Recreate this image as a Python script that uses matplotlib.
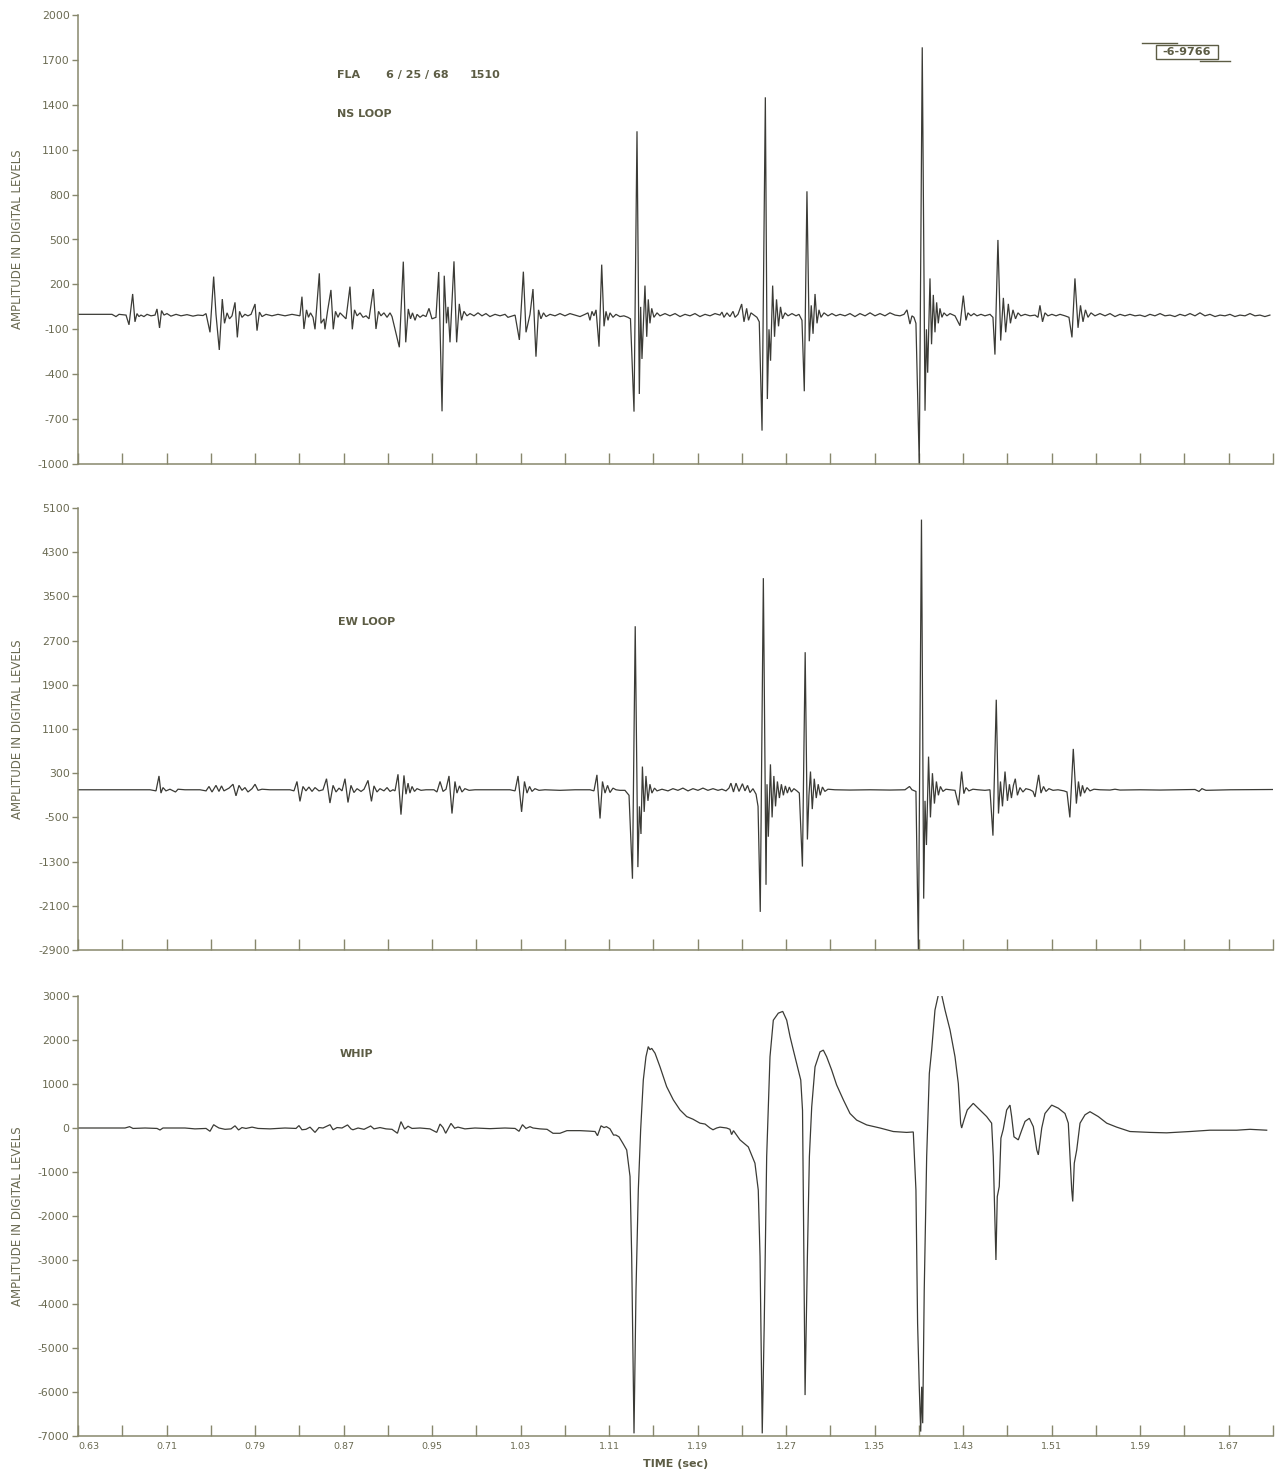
import matplotlib
matplotlib.use("Agg")
import matplotlib.pyplot as plt
from matplotlib.lines import Line2D
from matplotlib.patches import Rectangle

# ---------------- data (time in s, amplitude in digital levels) ----------------
ns_loop = [
    (0.6300, 0), (0.6607, 0), (0.6643, -15), (0.6671, 0), (0.6734, -5), (0.6761, -70), (0.6794, 136),
    (0.6815, -50), (0.6833, 5), (0.6851, -15), (0.6869, -5), (0.6896, -15), (0.6924, 0), (0.6960, -10),
    (0.6996, -5), (0.7014, 36), (0.7037, -91), (0.7055, 25), (0.7077, -5), (0.7104, 5), (0.7140, -12),
    (0.7186, 0), (0.7231, -10), (0.7285, -2), (0.7339, -12), (0.7384, -5), (0.7430, -8), (0.7457, 5),
    (0.7493, -120), (0.7526, 252), (0.7547, 0), (0.7577, -238), (0.7604, 102), (0.7624, -60), (0.7647, 10),
    (0.7669, -30), (0.7692, -10), (0.7719, 80), (0.7740, -154), (0.7760, 20), (0.7782, -20), (0.7809, 0),
    (0.7836, -10), (0.7864, 0), (0.7900, 69), (0.7918, -109), (0.7940, 15), (0.7963, -15), (0.7999, 0),
    (0.8053, -10), (0.8107, 0), (0.8171, -10), (0.8234, 0), (0.8270, -5), (0.8306, -10), (0.8324, 118),
    (0.8342, -98), (0.8365, 30), (0.8383, -20), (0.8401, 10), (0.8424, -20), (0.8442, -100), (0.8481, 274),
    (0.8496, -60), (0.8523, -30), (0.8532, -100), (0.8555, 20), (0.8586, 163), (0.8607, -100), (0.8627, 20),
    (0.8650, -20), (0.8668, 10), (0.8695, -10), (0.8722, -30), (0.8758, 185), (0.8779, -100), (0.8799, 30),
    (0.8822, -10), (0.8849, 10), (0.8876, -20), (0.8903, -10), (0.8930, -30), (0.8969, 169), (0.8993, -98),
    (0.9016, 20), (0.9038, -10), (0.9065, 10), (0.9093, -20), (0.9120, 10), (0.9138, -15), (0.9165, -98),
    (0.9204, -220), (0.9240, 352), (0.9262, -187), (0.9285, 36), (0.9305, -30), (0.9323, 10), (0.9346, -40),
    (0.9364, 0), (0.9391, -20), (0.9418, -5), (0.9445, -15), (0.9472, 40), (0.9499, -30), (0.9535, -20),
    (0.9560, 283), (0.9590, -648), (0.9610, 258), (0.9630, -60), (0.9644, 50), (0.9662, -187), (0.9698, 354),
    (0.9722, -187), (0.9746, 70), (0.9766, -40), (0.9788, 20), (0.9815, -10), (0.9843, 5), (0.9879, -10),
    (0.9915, 10), (0.9951, -10), (0.9987, 5), (1.0023, -15), (1.0069, 0), (1.0114, -10), (1.0159, 0),
    (1.0186, -20), (1.0250, -5), (1.0289, -171), (1.0325, 285), (1.0349, -120), (1.0385, 0), (1.0412, 169),
    (1.0439, -283), (1.0462, 30), (1.0484, -30), (1.0507, 10), (1.0530, -15), (1.0566, 0), (1.0611, -10),
    (1.0656, 5), (1.0701, -10), (1.0746, 5), (1.0792, -5), (1.0837, -15), (1.0882, 0), (1.0909, 10),
    (1.0927, -40), (1.0945, 20), (1.0963, -10), (1.0982, 30), (1.1009, -216), (1.1033, 332), (1.1054, -80),
    (1.1072, 20), (1.1090, -40), (1.1108, 10), (1.1135, -20), (1.1162, 0), (1.1198, -15), (1.1234, -10),
    (1.1270, -20), (1.1293, -30), (1.1325, -650), (1.1352, 1223), (1.1373, -532), (1.1385, 50), (1.1397, -298),
    (1.1424, 192), (1.1440, -150), (1.1454, 100), (1.1469, -60), (1.1485, 40), (1.1505, -20), (1.1533, 10),
    (1.1560, -10), (1.1605, 5), (1.1650, -10), (1.1696, 5), (1.1741, -15), (1.1786, 0), (1.1831, -10),
    (1.1876, 5), (1.1921, -15), (1.1967, 0), (1.2012, -10), (1.2057, 5), (1.2102, -5), (1.2120, 15),
    (1.2138, -20), (1.2165, 10), (1.2192, -15), (1.2220, 20), (1.2238, -20), (1.2265, 0), (1.2298, 69),
    (1.2319, -50), (1.2343, 40), (1.2360, -40), (1.2382, 10), (1.2409, -5), (1.2436, -20), (1.2457, -50),
    (1.2482, -777), (1.2512, 1450), (1.2530, -566), (1.2545, -100), (1.2559, -310), (1.2578, 192),
    (1.2595, -150), (1.2613, 100), (1.2631, -80), (1.2649, 50), (1.2667, -30), (1.2690, 10), (1.2717, -10),
    (1.2753, 5), (1.2789, -10), (1.2816, 0), (1.2843, -40), (1.2864, -514), (1.2888, 822), (1.2909, -180),
    (1.2927, 60), (1.2943, -130), (1.2961, 136), (1.2979, -60), (1.2997, 30), (1.3015, -20), (1.3042, 10),
    (1.3078, -10), (1.3114, 5), (1.3150, -10), (1.3187, 0), (1.3232, -10), (1.3277, 5), (1.3322, -15),
    (1.3367, 5), (1.3413, -10), (1.3458, 10), (1.3503, -10), (1.3548, 5), (1.3593, -10), (1.3638, 10),
    (1.3684, -5), (1.3729, -10), (1.3765, 0), (1.3792, 30), (1.3819, -65), (1.3837, -10), (1.3855, -20),
    (1.3873, -60), (1.3903, -1000), (1.3930, 1784), (1.3955, -644), (1.3968, -100), (1.3979, -390),
    (1.4000, 240), (1.4014, -200), (1.4030, 130), (1.4045, -120), (1.4060, 80), (1.4075, -60), (1.4090, 40),
    (1.4108, -20), (1.4126, 10), (1.4153, -10), (1.4181, 5), (1.4226, -10), (1.4271, -76), (1.4301, 125),
    (1.4325, -40), (1.4343, 10), (1.4370, -10), (1.4397, 5), (1.4425, -10), (1.4461, 0), (1.4497, -10),
    (1.4542, 0), (1.4569, -20), (1.4587, -269), (1.4614, 497), (1.4639, -175), (1.4663, 110), (1.4684, -120),
    (1.4708, 70), (1.4727, -60), (1.4750, 30), (1.4773, -30), (1.4795, 10), (1.4822, -10), (1.4859, 0),
    (1.4904, -10), (1.4949, -5), (1.4976, -20), (1.4994, 60), (1.5017, -50), (1.5039, 10), (1.5066, -10),
    (1.5102, 0), (1.5139, -10), (1.5175, 0), (1.5220, -10), (1.5256, -20), (1.5283, -154), (1.5310, 240),
    (1.5338, -90), (1.5360, 60), (1.5383, -50), (1.5405, 30), (1.5428, -20), (1.5455, 10), (1.5491, -10),
    (1.5536, 5), (1.5582, -10), (1.5627, 5), (1.5672, -15), (1.5717, 0), (1.5762, -10), (1.5807, 0),
    (1.5853, -10), (1.5898, -5), (1.5943, -15), (1.5988, 0), (1.6033, -10), (1.6079, 5), (1.6124, -10),
    (1.6169, -5), (1.6214, -15), (1.6259, 0), (1.6305, -10), (1.6350, 5), (1.6395, -10), (1.6440, 10),
    (1.6485, -10), (1.6530, 0), (1.6576, -15), (1.6621, -5), (1.6666, -10), (1.6711, 0), (1.6756, -15),
    (1.6801, -5), (1.6847, -10), (1.6892, 5), (1.6937, -10), (1.6982, -5), (1.7027, -15), (1.7072, -5),
]

ew_loop = [
    (0.6300, 0), (0.6951, 0), (0.7005, -20), (0.7032, 250), (0.7050, -60), (0.7068, 40), (0.7095, -20),
    (0.7131, 10), (0.7181, -40), (0.7204, 10), (0.7267, 0), (0.7403, 0), (0.7457, -20), (0.7484, 60),
    (0.7511, -40), (0.7547, 80), (0.7574, -30), (0.7597, 70), (0.7619, -20), (0.7665, 30), (0.7701, 100),
    (0.7728, -110), (0.7755, 80), (0.7782, -10), (0.7809, 40), (0.7836, -40), (0.7873, 20), (0.7900, 100),
    (0.7927, -10), (0.7963, 10), (0.8035, 0), (0.8216, 0), (0.8252, -20), (0.8279, 150), (0.8306, -210),
    (0.8333, 60), (0.8360, -20), (0.8387, 50), (0.8415, -30), (0.8442, 40), (0.8478, -20), (0.8514, 0),
    (0.8546, 200), (0.8577, -240), (0.8605, 80), (0.8632, -40), (0.8659, 30), (0.8686, -20), (0.8713, 200),
    (0.8740, -230), (0.8767, 80), (0.8794, -50), (0.8822, 20), (0.8858, -30), (0.8885, 10), (0.8921, 170),
    (0.8952, -210), (0.8975, 70), (0.9002, -40), (0.9029, 20), (0.9065, -20), (0.9093, 40), (0.9120, -30),
    (0.9147, 0), (0.9165, -20), (0.9192, 280), (0.9219, -450), (0.9246, 260), (0.9264, -80), (0.9283, 120),
    (0.9300, -60), (0.9319, 60), (0.9341, -30), (0.9364, 20), (0.9400, -10), (0.9445, 0), (0.9517, 0),
    (0.9544, -40), (0.9572, 150), (0.9599, -30), (0.9626, 10), (0.9653, 250), (0.9680, -430), (0.9707, 150),
    (0.9725, -60), (0.9748, 70), (0.9770, -40), (0.9797, 20), (0.9834, -10), (0.9888, 0), (1.0204, 0),
    (1.0250, -20), (1.0277, 250), (1.0309, -400), (1.0335, 150), (1.0358, -60), (1.0381, 60), (1.0403, -30),
    (1.0430, 20), (1.0466, -10), (1.0520, 0), (1.0656, -10), (1.0792, 0), (1.0927, 0), (1.0963, -20),
    (1.0990, 270), (1.1018, -520), (1.1040, 150), (1.1063, -60), (1.1086, 80), (1.1108, -50), (1.1135, 30),
    (1.1162, 0), (1.1198, -10), (1.1243, -10), (1.1280, -100), (1.1311, -1610), (1.1336, 2960),
    (1.1360, -1400), (1.1374, -300), (1.1388, -800), (1.1401, 420), (1.1417, -400), (1.1433, 250),
    (1.1451, -200), (1.1469, 100), (1.1487, -60), (1.1510, 30), (1.1533, -20), (1.1578, 10), (1.1632, -20),
    (1.1677, 20), (1.1722, -10), (1.1767, 30), (1.1813, -20), (1.1858, 20), (1.1903, -10), (1.1948, 30),
    (1.1993, -10), (1.2039, 20), (1.2084, -10), (1.2120, 10), (1.2156, -20), (1.2183, 30), (1.2201, 120),
    (1.2224, -40), (1.2247, 120), (1.2274, -30), (1.2305, 110), (1.2328, -20), (1.2351, 80), (1.2373, -50),
    (1.2400, 20), (1.2428, -80), (1.2446, -300), (1.2466, -2210), (1.2494, 3830), (1.2518, -1720),
    (1.2527, 100), (1.2539, -850), (1.2558, 460), (1.2573, -500), (1.2589, 250), (1.2604, -300),
    (1.2621, 150), (1.2639, -150), (1.2657, 100), (1.2675, -100), (1.2693, 70), (1.2711, -60), (1.2729, 50),
    (1.2747, -40), (1.2770, 20), (1.2797, -20), (1.2819, -60), (1.2847, -1390), (1.2872, 2490),
    (1.2892, -900), (1.2906, -100), (1.2920, 330), (1.2936, -350), (1.2954, 200), (1.2972, -150),
    (1.2990, 100), (1.3008, -100), (1.3028, 50), (1.3050, -30), (1.3078, 10), (1.3141, 0), (1.3277, -5),
    (1.3458, 0), (1.3638, -5), (1.3774, 0), (1.3815, 60), (1.3837, 0), (1.3873, -30), (1.3895, -2900),
    (1.3923, 4890), (1.3943, -1970), (1.3955, -200), (1.3968, -1000), (1.3987, 600), (1.4004, -500),
    (1.4022, 300), (1.4040, -250), (1.4058, 150), (1.4076, -100), (1.4094, 60), (1.4117, -30), (1.4144, 10),
    (1.4181, 0), (1.4226, -10), (1.4258, -280), (1.4286, 330), (1.4306, -70), (1.4325, 40), (1.4352, -20),
    (1.4388, 10), (1.4434, 0), (1.4497, -10), (1.4542, 0), (1.4569, -830), (1.4599, 1630), (1.4619, -430),
    (1.4637, 150), (1.4655, -300), (1.4678, 330), (1.4700, -200), (1.4718, 100), (1.4736, -150),
    (1.4754, 80), (1.4771, 200), (1.4790, -100), (1.4813, 40), (1.4840, -40), (1.4867, 20), (1.4904, 0),
    (1.4931, -30), (1.4949, -130), (1.4982, 270), (1.5003, -60), (1.5026, 60), (1.5048, -30), (1.5075, 20),
    (1.5112, -10), (1.5157, 0), (1.5211, -20), (1.5238, -40), (1.5264, -500), (1.5295, 740), (1.5323, -250),
    (1.5342, 150), (1.5360, -120), (1.5378, 80), (1.5396, -60), (1.5419, 40), (1.5446, -20), (1.5482, 10),
    (1.5536, 0), (1.5627, -5), (1.5672, 10), (1.5717, -5), (1.5898, 0), (1.6079, -5), (1.6395, 5),
    (1.6431, -30), (1.6458, 20), (1.6494, -10), (1.6711, 0), (1.7100, 5),
]

whip = [
    (0.6300, 0), (0.6725, 0), (0.6766, 30), (0.6797, -10), (0.6906, 0), (0.7014, -10), (0.7041, -45),
    (0.7068, 0), (0.7267, 0), (0.7357, -20), (0.7457, -10), (0.7493, -75), (0.7526, 75), (0.7547, 40),
    (0.7574, 0), (0.7629, -30), (0.7683, -20), (0.7719, 50), (0.7751, -45), (0.7782, 10), (0.7818, -10),
    (0.7873, 20), (0.7927, -10), (0.8035, -20), (0.8171, 0), (0.8270, -10), (0.8297, 55), (0.8324, -40),
    (0.8360, -30), (0.8397, 20), (0.8442, -100), (0.8478, 10), (0.8514, 0), (0.8578, 75), (0.8605, -40),
    (0.8641, 10), (0.8686, 0), (0.8736, 70), (0.8767, -20), (0.8785, -40), (0.8831, 0), (0.8885, -30),
    (0.8945, 45), (0.8975, -20), (0.9029, 10), (0.9084, -20), (0.9138, -30), (0.9187, -120), (0.9219, 145),
    (0.9252, -25), (0.9283, 40), (0.9319, -10), (0.9391, 0), (0.9481, -20), (0.9542, -100), (0.9572, 90),
    (0.9599, 10), (0.9623, -120), (0.9671, 105), (0.9704, -5), (0.9734, 20), (0.9797, -20), (0.9888, 0),
    (1.0023, -15), (1.0159, 0), (1.0250, -10), (1.0286, -75), (1.0317, 75), (1.0349, -10), (1.0385, 30),
    (1.0412, 0), (1.0475, -20), (1.0539, -30), (1.0593, -120), (1.0656, -120), (1.0719, -60), (1.0837, -60),
    (1.0915, -70), (1.0973, -80), (1.0995, -175), (1.1027, 50), (1.1054, 10), (1.1076, 30), (1.1108, -20),
    (1.1140, -160), (1.1161, -160), (1.1189, -200), (1.1225, -350), (1.1259, -500), (1.1289, -1100),
    (1.1304, -2920), (1.1325, -6940), (1.1343, -3680), (1.1364, -1400), (1.1385, -45), (1.1409, 1090),
    (1.1433, 1620), (1.1454, 1850), (1.1469, 1780), (1.1485, 1810), (1.1515, 1700), (1.1560, 1390),
    (1.1620, 940), (1.1680, 640), (1.1741, 410), (1.1801, 260), (1.1858, 200), (1.1921, 110), (1.1967, 90),
    (1.2012, 0), (1.2039, -40), (1.2072, 0), (1.2102, 20), (1.2162, 0), (1.2192, -30), (1.2207, -150),
    (1.2224, -60), (1.2283, -270), (1.2358, -430), (1.2418, -800), (1.2448, -1410), (1.2464, -2920),
    (1.2484, -6940), (1.2502, -4440), (1.2524, -650), (1.2554, 1620), (1.2584, 2450), (1.2629, 2610),
    (1.2669, 2650), (1.2705, 2450), (1.2735, 2080), (1.2765, 1770), (1.2810, 1320), (1.2832, 1090),
    (1.2848, 400), (1.2857, -2000), (1.2871, -6070), (1.2892, -2920), (1.2910, -650), (1.2931, 480),
    (1.2961, 1390), (1.3006, 1730), (1.3036, 1770), (1.3066, 1620), (1.3111, 1320), (1.3156, 980),
    (1.3217, 640), (1.3277, 330), (1.3337, 180), (1.3428, 70), (1.3548, 0), (1.3668, -80), (1.3789, -100),
    (1.3849, -90), (1.3873, -1410), (1.3888, -4440), (1.3903, -5880), (1.3916, -6900), (1.3925, -5880),
    (1.3934, -6710), (1.3948, -3680), (1.3970, -650), (1.3994, 1240), (1.4015, 1770), (1.4045, 2680),
    (1.4075, 3020), (1.4106, 3020), (1.4136, 2680), (1.4181, 2230), (1.4226, 1620), (1.4256, 1010),
    (1.4277, 110), (1.4286, 0), (1.4307, 180), (1.4337, 410), (1.4391, 560), (1.4452, 410), (1.4512, 260),
    (1.4557, 110), (1.4572, -650), (1.4587, -2170), (1.4596, -3000), (1.4608, -1560), (1.4626, -1330),
    (1.4641, -230), (1.4662, -30), (1.4693, 410), (1.4723, 520), (1.4738, 260), (1.4759, -200),
    (1.4798, -270), (1.4829, -50), (1.4859, 150), (1.4898, 220), (1.4934, 30), (1.4965, -500),
    (1.4979, -610), (1.5010, 0), (1.5039, 330), (1.5100, 520), (1.5160, 450), (1.5220, 330), (1.5250, 110),
    (1.5265, -650), (1.5281, -1410), (1.5290, -1670), (1.5304, -800), (1.5326, -500), (1.5356, 110),
    (1.5401, 300), (1.5446, 370), (1.5521, 260), (1.5597, 110), (1.5687, 20), (1.5807, -80), (1.5988, -100),
    (1.6139, -110), (1.6350, -80), (1.6530, -50), (1.6771, -50), (1.6892, -30), (1.7043, -50),
]

panel_names = ["NS LOOP", "EW LOOP", "WHIP"]
ns_yticks = [2000, 1700, 1400, 1100, 800, 500, 200, -100, -400, -700, -1000]
ew_yticks = [5100, 4300, 3500, 2700, 1900, 1100, 300, -500, -1300, -2100, -2900]
whip_yticks = [3000, 2000, 1000, 0, -1000, -2000, -3000, -4000, -5000, -6000, -7000]
x_ticks = [round(0.63 + 0.04 * k, 2) for k in range(28)]
x_ticklabels = ["%.2f" % v if k % 2 == 0 else "" for k, v in enumerate(x_ticks)]

# ---------------- style ----------------
W, H = 1278, 1478
trace_c = "#3b3b36"
axis_c = "#87876c"
text_c = "#5c5c44"
label_c = "#6a6a52"
plt.rcParams["font.family"] = ["DejaVu Sans"]

fig = plt.figure(figsize=(W / 100, H / 100), dpi=100)
fig.patch.set_facecolor("white")

left, width = 78 / W, (1273 - 78) / W
boxes = [(15, 464), (508, 950), (996, 1436)]
series = [ns_loop, ew_loop, whip]
yticks = [ns_yticks, ew_yticks, whip_yticks]

axes = []
for i, ((top, bot), data, yt) in enumerate(zip(boxes, series, yticks)):
    ax = fig.add_axes([left, 1 - bot / H, width, (bot - top) / H])
    t = [p[0] for p in data]
    v = [p[1] for p in data]
    ax.plot(t, v, color=trace_c, lw=0.9, solid_joinstyle="miter")
    ax.set_xlim(0.63, 1.71)
    ax.set_ylim(min(yt), max(yt))
    ax.set_yticks(yt)
    ax.set_yticklabels([str(y) for y in yt])
    ax.set_xticks(x_ticks)
    if i == 2:
        ax.set_xticklabels(x_ticklabels)
        ax.get_xticklabels()[0].set_horizontalalignment("left")
        ax.set_xlabel("TIME (sec)", fontsize=8, color=text_c, fontweight="bold", labelpad=6)
    else:
        ax.set_xticklabels([])
    for s in ["top", "right"]:
        ax.spines[s].set_visible(False)
    for s in ["left", "bottom"]:
        ax.spines[s].set_color(axis_c)
        ax.spines[s].set_linewidth(1.1)
    ax.tick_params(axis="x", direction="in", length=8, width=1.0, color=axis_c,
                   labelsize=6.8, labelcolor=label_c, pad=4)
    ax.tick_params(axis="y", direction="out", length=4, width=1.0, color=axis_c,
                   labelsize=7.8, labelcolor=label_c, pad=2)
    ax.set_ylabel("AMPLITUDE IN DIGITAL LEVELS", fontsize=8.5, color=label_c, labelpad=0)
    ax.yaxis.set_label_coords(-0.045, 0.5)
    ax.set_facecolor("none")
    axes.append(ax)

# ---------------- annotations ----------------
def ftext(x, y, s, **kw):
    fig.text(x / W, 1 - y / H, s, color=text_c, fontsize=8, va="center", ha="left",
             fontweight="bold", **kw)

ftext(337, 75, "FLA")
ftext(386, 75, "6 / 25 / 68")
ftext(470, 75, "1510")
ftext(337, 114, panel_names[0])
ftext(338, 622, panel_names[1])
ftext(340, 1054, panel_names[2])

fig.text(1187 / W, 1 - 52 / H, "-6-9766", color=text_c, fontsize=8, va="center", ha="center",
         fontweight="bold")
fig.patches.append(Rectangle((1156 / W, 1 - 59 / H), 62 / W, 14 / H, transform=fig.transFigure,
                             fill=False, edgecolor=text_c, lw=1.0))
fig.lines.append(Line2D([1142 / W, 1177 / W], [1 - 43 / H, 1 - 43 / H], transform=fig.transFigure,
                        color=text_c, lw=1.0))
fig.lines.append(Line2D([1200 / W, 1230 / W], [1 - 61 / H, 1 - 61 / H], transform=fig.transFigure,
                        color=text_c, lw=1.0))

fig.savefig("out.png", dpi=100, facecolor="white")
